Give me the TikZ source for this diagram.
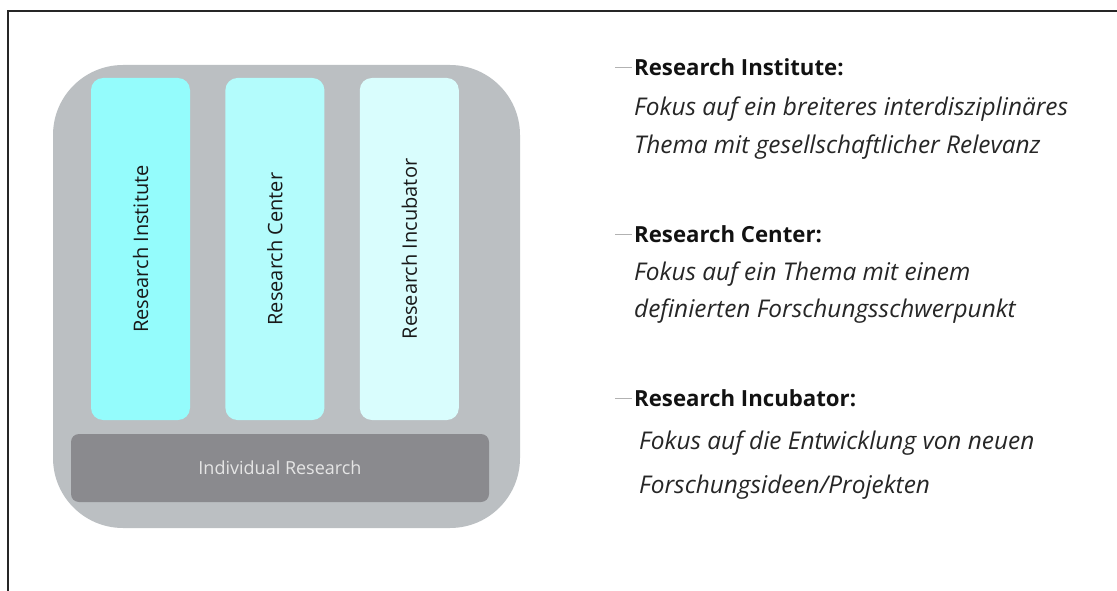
\documentclass[tikz,border=0pt]{standalone}
\usepackage{fontspec}
\setmainfont{Open Sans}
\usetikzlibrary{positioning}

\definecolor{outergray}{HTML}{BBBFC2}
\definecolor{indivgray}{HTML}{8A8A8E}
\definecolor{instcol}{HTML}{94FCFC}
\definecolor{centcol}{HTML}{B3FCFC}
\definecolor{incucol}{HTML}{D9FDFD}

\tikzset{
	pillar/.style={rounded corners=12pt, minimum width=99pt, minimum height=342pt, inner sep=0pt},
	pillartext/.style={rotate=90, font=\fontsize{20}{22}\selectfont, text=black!90},
	headtext/.style={anchor=base west, inner sep=0pt, font=\fontsize{22.2}{26}\selectfont\bfseries, text=black!93},
	desctext/.style={anchor=base west, inner sep=0pt, font=\fontsize{24.4}{28}\selectfont\itshape, text=black!85},
	dashline/.style={black!30, line width=1pt},
}

\begin{document}
\begin{tikzpicture}[x=1pt,y=-1pt]
	\useasboundingbox (0,0) rectangle (1117,591);
	\draw[line width=2pt, black!85] (8,591) -- (8,11) -- (1117,11);
	%
	\node[fill=outergray, rounded corners=70pt, minimum width=467pt, minimum height=463pt] (block) at (286.5,296.5) {};
	\node[pillar, fill=instcol] (inst) at (140.5,249) {};
	\node[pillar, fill=centcol, right=35pt of inst] (cent) {};
	\node[pillar, fill=incucol, right=35pt of cent] (incu) {};
	\node[pillartext] (instlabel) at (inst) {Research Institute};
	\node[pillartext] (centlabel) at (cent) {Research Center};
	\node[pillartext] (inculabel) at (incu) {Research Incubator};
	\node[fill=indivgray, rounded corners=8pt, minimum width=418pt, minimum height=68pt,
		text=white!90!black, font=\fontsize{18}{22}\selectfont] (indiv) at (280,468) {Individual Research};
	%
	\node[headtext] (insthead) at (634,76) {Research Institute:};
	\node[desctext] (instdesca) at (634,116) {Fokus auf ein breiteres interdisziplinäres};
	\node[desctext] (instdescb) at (634,154) {Thema mit gesellschaftlicher Relevanz};
	%
	\node[headtext] (centhead) at (634,242) {Research Center:};
	\node[desctext] (centdesca) at (634,280) {Fokus auf ein Thema mit einem};
	\node[desctext] (centdescb) at (634,317) {definierten Forschungsschwerpunkt};
	%
	\node[headtext] (incuhead) at (634,406) {Research Incubator:};
	\node[desctext] (incudesca) at (639,449) {Fokus auf die Entwicklung von neuen};
	\node[desctext] (incudescb) at (639,493) {Forschungsideen/Projekten};
	%
	\foreach \h in {insthead, centhead, incuhead}
		\draw[dashline] ([xshift=-2pt,yshift=8pt]\h.base west) -- ++(-17,0);
\end{tikzpicture}
\end{document}
